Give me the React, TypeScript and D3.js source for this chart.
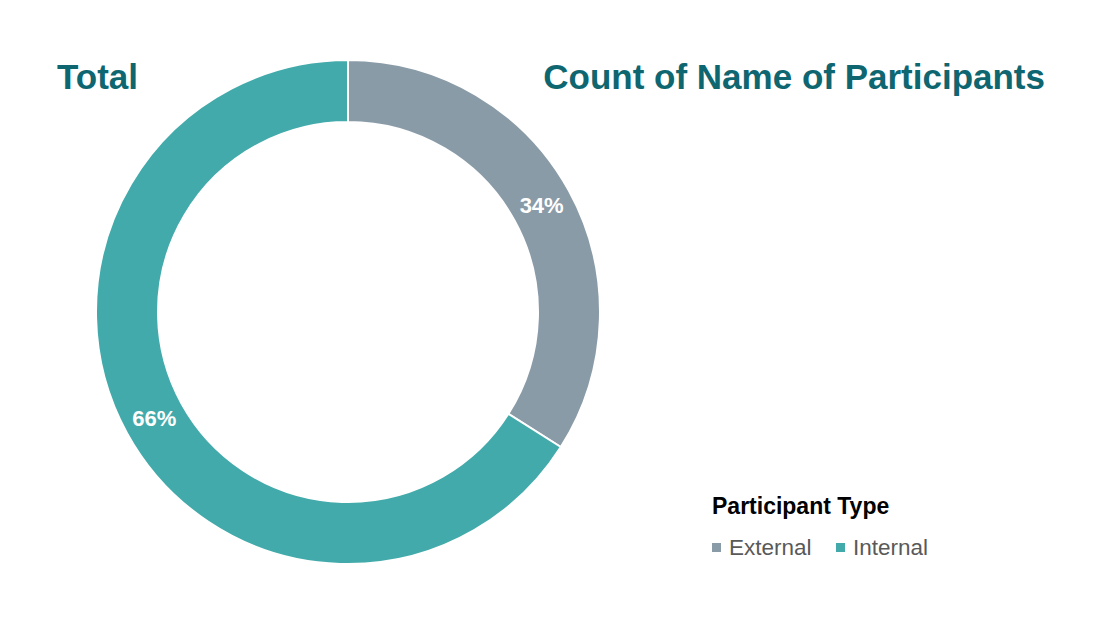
import React from "react";
import * as d3 from "d3";

const categories = ["External", "Internal"];
const values = [34, 66];
const colors = ["#8A9BA8", "#42AAAA"];
const title = "Total";
const subtitle = "Count of Name of Participants";
const legendTitle = "Participant Type";

export default function App() {
  const W = 1101;
  const H = 625;
  const cx = 348;
  const cy = 312;
  const outerR = 252;
  const innerR = 190;

  const pie = d3.pie<number>().sort(null).value((d) => d)(values);
  const arc = d3.arc<d3.PieArcDatum<number>>().innerRadius(innerR).outerRadius(outerR);
  const total = d3.sum(values);
  const font = "'Liberation Sans', Arial, Helvetica, sans-serif";

  const legendX = [712, 836];

  return (
    <div style={{ position: "absolute", left: 0, top: 0 }}>
      <svg width={W} height={H} style={{ display: "block", background: "#fff" }}>
        <text x={57} y={89} fontFamily={font} fontWeight="bold" fontSize={35} fill="#0E6670">
          {title}
        </text>
        <text x={1045} y={89} textAnchor="end" fontFamily={font} fontWeight="bold" fontSize={35} fill="#0E6670">
          {subtitle}
        </text>
        <g transform={`translate(${cx},${cy})`}>
          {pie.map((p, i) => (
            <path key={categories[i]} d={arc(p) || ""} fill={colors[i]} stroke="#fff" strokeWidth={2} />
          ))}
          {pie.map((p, i) => {
            const [x, y] = arc.centroid(p);
            return (
              <text
                key={"l" + i}
                x={x}
                y={y}
                dy="0.35em"
                textAnchor="middle"
                fontFamily={font}
                fontWeight="bold"
                fontSize={22}
                fill="#fff"
              >
                {Math.round((values[i] / total) * 100) + "%"}
              </text>
            );
          })}
        </g>
        <text x={712} y={514} fontFamily={font} fontWeight="bold" fontSize={23} fill="#000">
          {legendTitle}
        </text>
        {categories.map((c, i) => (
          <g key={c}>
            <rect x={legendX[i]} y={543} width={9} height={9} fill={colors[i]} />
            <text x={legendX[i] + 17} y={555} fontFamily={font} fontSize={22.5} fill="#595959">
              {c}
            </text>
          </g>
        ))}
      </svg>
    </div>
  );
}
